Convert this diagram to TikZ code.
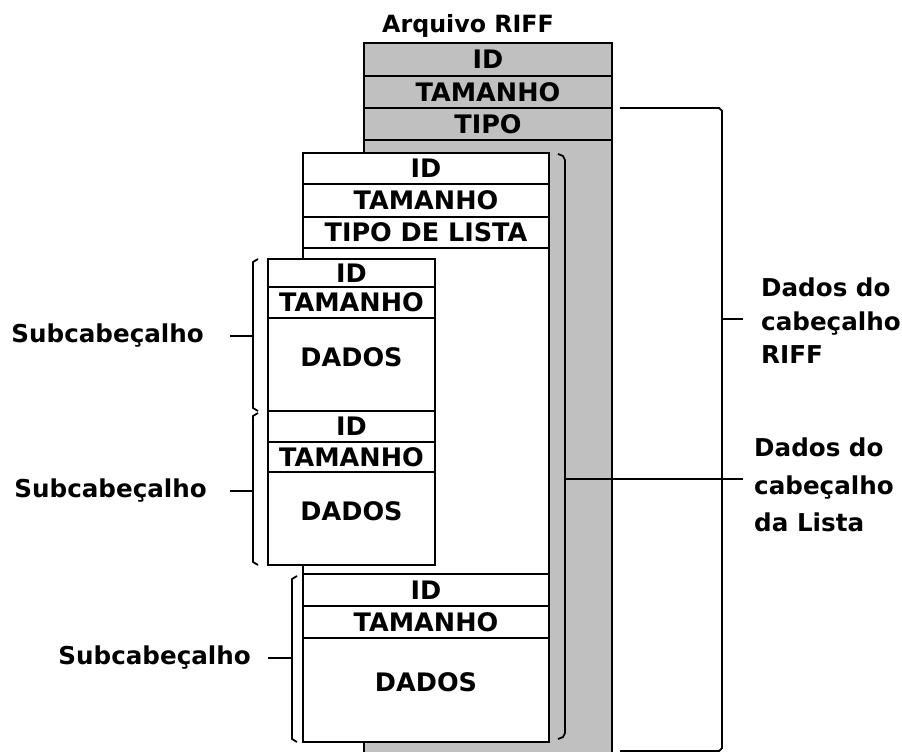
\documentclass[tikz,border=0pt]{standalone}
\usepackage{fontspec}
\setmainfont{DejaVu Sans}
\usetikzlibrary{positioning}

\definecolor{cinza}{RGB}{192,192,192}

\tikzset{
  campo/.style 2 args={draw, fill=white, line width=1pt, inner sep=0pt, outer sep=0pt,
    minimum width=#1*0.2mm, minimum height=#2*0.2mm,
    font=\fontsize{14.5}{16}\selectfont\bfseries},
  dados/.style={text depth=3mm},
  chave/.style={line width=1pt},
  rotulo/.style={font=\fontsize{14}{19}\selectfont\bfseries, align=left},
}

\begin{document}
\begin{tikzpicture}[x=0.2mm, y=-0.2mm]
	\useasboundingbox (0,0) rectangle (902,752);

	% Arquivo RIFF (coluna cinza)
	\draw[fill=cinza, line width=1pt] (364,140) -- (364,760) -- (612,760) -- (612,140);
	\node[font=\fontsize{13.5}{16}\selectfont\bfseries, anchor=base] (titulo) at (468,33) {Arquivo RIFF};
	\node[campo={248}{33}, fill=cinza] (rid) at (488,59.5) {ID};
	\node[campo={248}{32}, fill=cinza, below=0pt of rid] (rtam) {TAMANHO};
	\node[campo={248}{32}, fill=cinza, below=0pt of rtam] (rtipo) {TIPO};

	% Lista
	\node[campo={246}{31}] (lid) at (426,168.5) {ID};
	\node[campo={246}{33}, below=0pt of lid] (ltam) {TAMANHO};
	\node[campo={246}{31}, below=0pt of ltam] (ltipo) {TIPO DE LISTA};
	\node[campo={246}{494}, below=0pt of ltipo] (lcorpo) {};

	% Subcabecalho 1
	\node[campo={167}{28}] (s1id) at (351.5,273) {ID};
	\node[campo={167}{31}, below=0pt of s1id] (s1tam) {TAMANHO};
	\node[campo={167}{93}, dados, below=0pt of s1tam] (s1dados) {DADOS};

	% Subcabecalho 2
	\node[campo={167}{31}, below=0pt of s1dados] (s2id) {ID};
	\node[campo={167}{30}, below=0pt of s2id] (s2tam) {TAMANHO};
	\node[campo={167}{93}, dados, below=0pt of s2tam] (s2dados) {DADOS};

	% Subcabecalho 3
	\node[campo={246}{32}] (s3id) at (426,590) {ID};
	\node[campo={246}{32}, below=0pt of s3id] (s3tam) {TAMANHO};
	\node[campo={246}{104}, dados, below=0pt of s3tam] (s3dados) {DADOS};

	% Chaves da esquerda
	\draw[chave] ([xshift=-2mm]s1id.north west) -- ++(-5,3) -- ([xshift=-3mm,yshift=.6mm]s1dados.south west) -- ++(5,3);
	\draw[chave] ([xshift=-2mm,yshift=-.4mm]s2id.north west) -- ++(-5,3) -- ([xshift=-3mm,yshift=.6mm]s2dados.south west) -- ++(5,3);
	\draw[chave] ([xshift=-1.2mm,yshift=-.4mm]s3id.north west) -- ++(-5,3) -- ([xshift=-2.2mm,yshift=.6mm]s3dados.south west) -- ++(5,3);

	\coordinate (k1) at (253,336);
	\coordinate (k2) at (253,491);
	\coordinate (k3) at (292,658);
	\node[rotulo, left=8.6mm of k1] (sub1) {Subcabeçalho};
	\node[rotulo, left=8mm of k2] (sub2) {Subcabeçalho};
	\node[rotulo, left=7mm of k3] (sub3) {Subcabeçalho};
	\draw[chave] (k1) -- ++(-23,0);
	\draw[chave] (k2) -- ++(-23,0);
	\draw[chave] (k3) -- ++(-24,0);

	% Chave da lista
	\draw[chave] ([xshift=1.8mm,yshift=-.2mm]lid.north east) -- ++(5,2) -- ++(2,4) -- ([xshift=3.2mm,yshift=1.8mm]s3dados.south east) -- ++(-2,4) -- ++(-5,2);
	\coordinate (kl) at (565,479);
	\node[rotulo, font=\fontsize{14}{21.5}\selectfont\bfseries, right=36.6mm of kl, yshift=-1.2mm] (lista) {Dados do\\cabeçalho\\da Lista};
	\draw[chave] (kl) -- ++(178,0);

	% Chave do RIFF
	\draw[chave] ([xshift=1.6mm]rtam.south east) -- ++(99,0) -- ++(3,3) -- ++(0,637) -- ++(-3,3) -- ++(-99,0);
	\coordinate (kr) at (722,319);
	\node[rotulo, right=6.6mm of kr, yshift=-.4mm] (riff) {Dados do\\cabeçalho\\RIFF};
	\draw[chave] (kr) -- ++(21,0);
\end{tikzpicture}
\end{document}
